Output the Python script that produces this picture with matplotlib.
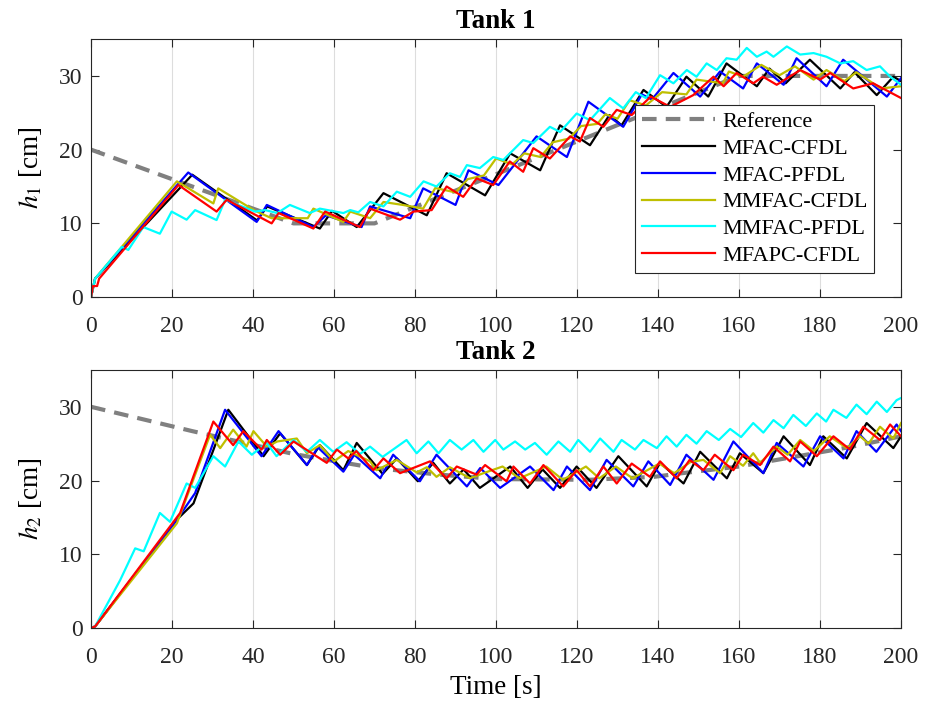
import matplotlib
matplotlib.use('Agg')
import matplotlib.pyplot as plt

plt.rcParams['font.family'] = ['Liberation Serif', 'DejaVu Serif']
plt.rcParams['mathtext.fontset'] = 'stix'

# ---- Tank 1 data ----
ref1_t = [0, 50, 70, 160, 200]
ref1_h = [20, 10, 10, 30, 30]

k1_t = [0, 1, 25, 41, 43.5, 56.5, 59.5, 65.6, 72.2, 82.9, 87.8, 97.3, 103.5, 110.9, 115.8, 123.2, 128, 131, 136.4,
        142.1, 147, 152.4, 156.9, 164.4, 167.5, 171.5, 177.5, 185, 188.5, 194, 198.1, 200]
k1_h = [0, 2.5, 16.6, 10.4, 12.3, 9.3, 11.7, 9.5, 14.1, 11.1, 16.8, 13.8, 19.5, 17.2, 23.3, 20.6, 24.7, 23.3, 28.1,
        25.8, 29.9, 27.2, 31.7, 28.6, 31.0, 29.0, 32.2, 28.3, 30.5, 27.4, 29.9, 29.3]

b1_t = [0, 1, 24, 40.9, 43.4, 54.9, 58, 66.8, 68.9, 78.8, 82, 90, 93.2, 100.6, 110, 117.5, 122.8, 131.4, 136,
        138.5, 143.8, 150.4, 155.3, 161, 164.4, 171, 174.2, 181.6, 185.7, 196.5, 200]
b1_h = [0, 2.5, 16.9, 10.2, 12.5, 9.5, 11.1, 9.5, 12.3, 10.7, 14.75, 12.5, 17.2, 15.2, 21.8, 19, 26.5, 23.1, 27.5,
        26.8, 30.4, 27.2, 30.6, 28.3, 31.7, 28.8, 32.4, 28.6, 32.2, 27.2, 29.7]

y1_t = [0, 1, 21.2, 30.2, 31.4, 40.5, 44.6, 53.5, 54.9, 62.3, 64, 68.9, 72.2, 77, 82, 85, 90, 93, 97, 100, 104,
        107, 111, 114, 118, 121, 125, 127, 130, 133, 137, 141, 147, 149.5, 156, 157.5, 161, 165.5, 170, 173.8,
        178.4, 181.6, 186, 189, 195, 200]
y1_h = [0, 2.5, 15.7, 12.7, 14.75, 11.7, 10.7, 10.7, 12, 10.2, 11.6, 10.7, 12.9, 12.5, 12.0, 14.8, 14.2, 16.0,
        16.5, 18.8, 18.0, 19.5, 19.0, 21.0, 21.5, 23.2, 23.5, 24.8, 24.2, 26.7, 26.0, 27.8, 27.5, 29.5, 29.0,
        30.6, 29.9, 31.5, 30.1, 31.3, 29.5, 30.8, 29.3, 30.5, 28.3, 28.6]

c1_t = [0, 1, 7.6, 9.2, 12.9, 17, 19.9, 23.6, 25.7, 31, 33.1, 40.5, 43, 46, 49.1, 54, 56.5, 62.3, 64, 66, 68.9,
        72.2, 75.5, 78.8, 82.1, 85.3, 88.6, 91.1, 92.8, 96.0, 99.3, 101.8, 106.7, 109.2, 113.3, 115.8, 119.9,
        123.2, 128.1, 131.4, 134.5, 137, 140.5, 143.8, 147.1, 149.5, 152, 154.5, 156.9, 159.4, 161.9, 164.4,
        166.8, 168.5, 171.8, 175.1, 178.4, 181.6, 185, 188.2, 191.5, 194.8, 197.3, 200]
c1_h = [0, 2.5, 6.8, 6.4, 9.5, 8.6, 11.6, 10.5, 11.8, 10.45, 13.2, 11.6, 11.8, 11.4, 12.5, 11.4, 12, 11.4, 11.8,
        11.5, 12.9, 12.3, 14.3, 13.6, 15.7, 15.0, 16.8, 16.3, 17.9, 17.5, 19.0, 18.6, 21.3, 20.9, 23.1, 22.4,
        24.9, 24.0, 27.0, 25.6, 27.8, 27.0, 30.1, 29.0, 30.8, 29.9, 31.7, 30.8, 32.4, 32.2, 33.8, 32.6, 33.3,
        32.6, 34.0, 32.9, 33.1, 32.6, 31.7, 32.0, 30.8, 31.3, 29.9, 28.8]

r1_t = [0, 0.5, 1.5, 2, 21.6, 31, 33.5, 44.6, 46.3, 54.9, 57.8, 66.4, 68.9, 76.3, 79.6, 84.1, 87.8, 91.9, 95.2,
        99.3, 103.4, 106.7, 109.2, 113.3, 118.3, 120.7, 123.2, 126.5, 129.8, 133.5, 138.2, 143, 148.7, 153.7,
        156.2, 159.4, 163.5, 165.9, 169.3, 175.1, 180, 182.5, 188.2, 193.1, 200]
r1_h = [0, 1.5, 1.5, 2.5, 15.2, 11.6, 13.2, 10.0, 11.4, 9.3, 11.6, 9.5, 12.0, 10.5, 11.6, 11.8, 15.0, 13.6, 16.1,
        15.2, 18.4, 17.0, 20.2, 18.8, 21.8, 21.1, 24.3, 23.1, 25.4, 24.7, 27.2, 25.8, 27.4, 29.9, 28.6, 30.4,
        29.0, 29.9, 28.8, 30.8, 29.5, 30.4, 28.3, 29.0, 27.0]

# ---- Tank 2 data ----
ref2_t = [0, 25, 50, 70, 86, 100, 123, 139, 146, 160, 188, 200]
ref2_h = [30, 26.7, 23.6, 21.7, 20.8, 20.2, 20.1, 20.5, 21, 21.9, 24.6, 26]

k2_t = [0, 1, 21.2, 25.3, 33.9, 42.6, 46.7, 53.3, 56.5, 62.3, 65.6, 72, 75.5, 80.7, 84.5, 88.6, 92, 96, 103.5,
        107.8, 111.5, 115.8, 119.9, 124.8, 130.2, 137.2, 140.5, 146.3, 150.4, 157, 160.2, 166, 171, 177.5, 180.8,
        186.6, 191.5, 198.1, 200]
k2_h = [0, 0.2, 14.7, 16.9, 29.6, 23.3, 26.4, 22.1, 24.8, 21.4, 25.1, 20.9, 23.0, 19.9, 22.4, 19.6, 21.5, 19.0,
        21.9, 19.0, 21.5, 19.0, 21.9, 19.0, 23.3, 19.2, 22.4, 19.6, 23.9, 20.3, 23.7, 21.0, 26.0, 22.1, 26.0,
        23.0, 27.8, 24.4, 26.0]

b2_t = [0, 1, 21.2, 25.7, 33.1, 42.1, 46.3, 53.3, 56, 62.3, 65, 71.4, 74.6, 81.2, 85.3, 92.8, 96.1, 101, 108.4,
        114.2, 117.5, 123.2, 127.3, 133.9, 137.6, 143, 147, 153.7, 158.6, 166, 169.3, 175.9, 180, 185.8, 189,
        193.9, 198.9, 200]
b2_h = [0, 0.2, 14.7, 18.3, 29.6, 23.3, 26.7, 22.1, 24.5, 21.2, 23.5, 20.3, 23.5, 19.9, 23.5, 19.2, 21.7, 19.0,
        21.9, 18.7, 21.9, 18.7, 22.8, 19.2, 22.6, 19.4, 23.5, 20.1, 25.3, 21.0, 25.1, 21.9, 26.0, 23.0, 26.7,
        23.9, 27.6, 26.7]

y2_t = [0, 1, 21.2, 29.4, 31.9, 35.1, 38.4, 40.1, 43.4, 46, 50.8, 53.3, 56.5, 60, 63.5, 68.9, 70.5, 75.5, 80.4,
        82.9, 85.3, 88.6, 93.6, 96.9, 101.6, 105.8, 112.4, 116.5, 122.2, 125.5, 129.6, 133.7, 140.3, 144, 148,
        151.2, 155.3, 157.8, 161, 163.5, 165.2, 169.3, 172, 175.1, 178.5, 182.4, 186.6, 189.9, 192, 194.8,
        198.1, 200]
y2_h = [0, 0.2, 14.2, 26.2, 24.4, 26.9, 24.6, 26.7, 24.6, 25.3, 25.7, 23.7, 24.8, 22.6, 24.0, 22.6, 21.4, 22.8,
        21.1, 21.8, 20.5, 21.8, 20.3, 21.0, 21.9, 20.3, 21.9, 20.1, 21.9, 20.3, 21.9, 20.3, 22.3, 21.0, 22.5,
        22.8, 21.0, 23.3, 22.0, 23.7, 22.4, 24.6, 23.5, 25.5, 24.0, 26.0, 24.4, 26.0, 25.0, 27.3, 25.7, 27.8]

c2_t = [0, 1, 7.2, 10.9, 13, 17, 19.5, 23.6, 25.7, 30.2, 33.1, 36.4, 39.7, 43.4, 45.8, 50, 53.3, 56.5, 59.8,
        63.1, 66.4, 68.9, 72, 77.9, 80.4, 83.3, 85.8, 88.6, 91.5, 94.4, 96.9, 99.8, 101.8, 104.7, 107.2, 109.6,
        112.5, 115.4, 118.3, 120.3, 123.2, 125.7, 129, 131, 134.3, 136.4, 139.7, 142.1, 144.6, 147, 149.5, 152,
        155, 157.8, 160.5, 163.5, 166, 168.5, 171, 173.4, 176.5, 179.2, 181.5, 183.3, 186.5, 189, 191.5, 194,
        196.5, 198.9, 200]
c2_h = [0, 0.2, 6.5, 10.8, 10.4, 15.6, 14.4, 19.6, 19.0, 23.3, 21.9, 25.3, 23.5, 25.1, 23.3, 25.5, 23.9, 25.5,
        23.9, 25.2, 23.6, 24.6, 23.2, 25.5, 23.7, 25.3, 23.7, 25.5, 24.2, 25.5, 23.9, 25.5, 24.2, 25.3, 24.2,
        25.1, 23.5, 25.3, 23.9, 25.5, 23.9, 25.7, 23.9, 25.5, 24.2, 25.5, 24.4, 26.0, 24.6, 26.2, 25.0, 26.7,
        25.5, 27.0, 25.9, 27.8, 26.5, 28.2, 27.1, 28.9, 27.4, 29.1, 28.0, 29.6, 28.5, 30.3, 29.0, 30.7, 29.3,
        30.9, 31.2]

r2_t = [0, 1, 22, 30.2, 35.1, 37.6, 42.1, 43.4, 46.7, 50, 58.2, 60.7, 63.5, 65.5, 69.7, 72.2, 76.3, 83.7, 87.8,
        90.3, 95.2, 97.3, 102.6, 104.3, 108.4, 111.7, 116.6, 119.9, 123.2, 126.5, 129.8, 133.5, 138, 140.5,
        144.6, 147.8, 151.2, 154, 158.6, 161, 165.2, 168.5, 172.6, 175.1, 179.2, 183.3, 187.4, 190.7, 194.8,
        197.3, 200]
r2_h = [0, 0.2, 15.6, 28.0, 24.8, 26.7, 24.2, 25.5, 23.5, 25.3, 22.4, 24.2, 23.0, 24.0, 21.4, 23.0, 21.0, 22.6,
        20.3, 21.9, 20.8, 22.1, 19.9, 21.9, 19.6, 22.1, 19.2, 21.4, 19.2, 21.9, 19.6, 22.3, 20.5, 22.6, 20.3,
        22.8, 21.4, 23.5, 21.4, 23.5, 22.1, 24.6, 22.6, 25.3, 23.3, 26.0, 24.2, 27.3, 25.5, 27.6, 26.0]

labels = ['Reference', 'MFAC-CFDL', 'MFAC-PFDL', 'MMFAC-CFDL', 'MMFAC-PFDL', 'MFAPC-CFDL']
colors = ['black', 'blue', '#bfbf00', 'cyan', 'red']

fig = plt.figure(figsize=(9.27, 7.04), dpi=100)
ax1 = fig.add_axes([0.0982, 0.578, 0.8738, 0.3665])
ax2 = fig.add_axes([0.0982, 0.108, 0.8738, 0.3665])

panels = [
    (ax1, ref1_t, ref1_h, [(k1_t, k1_h), (b1_t, b1_h), (y1_t, y1_h), (c1_t, c1_h), (r1_t, r1_h)],
     'Tank 1', r'$h_{\mathit{1}}$ [cm]'),
    (ax2, ref2_t, ref2_h, [(k2_t, k2_h), (b2_t, b2_h), (y2_t, y2_h), (c2_t, c2_h), (r2_t, r2_h)],
     'Tank 2', r'$h_{\mathit{2}}$ [cm]'),
]

for ax, rt, rh, series, title, ylab in panels:
    ax.plot(rt, rh, color='gray', lw=3, ls=(0, (3.5, 2.2)), label=labels[0])
    for (t, h), col, lab in zip(series, colors, labels[1:]):
        ax.plot(t, h, color=col, lw=1.6, label=lab)
    ax.set_xlim(0, 200)
    ax.set_ylim(0, 35)
    ax.set_xticks(range(0, 201, 20))
    ax.set_yticks([0, 10, 20, 30])
    ax.grid(axis='x', color='#dddddd', lw=0.8)
    ax.set_axisbelow(True)
    ax.tick_params(direction='in', top=True, right=True, labelsize=17, length=6, width=0.8,
                   colors='#262626')
    ax.tick_params(axis='x', pad=13.5)
    ax.tick_params(axis='y', pad=6)
    ax.set_title(title, fontsize=19.5, fontweight='bold', pad=8)
    ax.set_ylabel(ylab, fontsize=19.5, labelpad=11)
    for s in ax.spines.values():
        s.set_color('#262626')
        s.set_linewidth(0.8)

ax2.set_xlabel('Time [s]', fontsize=19.5, labelpad=5)

leg = ax1.legend(loc='upper left', bbox_to_anchor=(0.672, 0.745), fontsize=16, frameon=True,
                 fancybox=False, edgecolor='#262626', framealpha=1, handlelength=3.3,
                 borderpad=0.3, labelspacing=0.28, handletextpad=0.3, borderaxespad=0)
leg.get_frame().set_linewidth(0.8)

fig.savefig('out.png', dpi=100)
